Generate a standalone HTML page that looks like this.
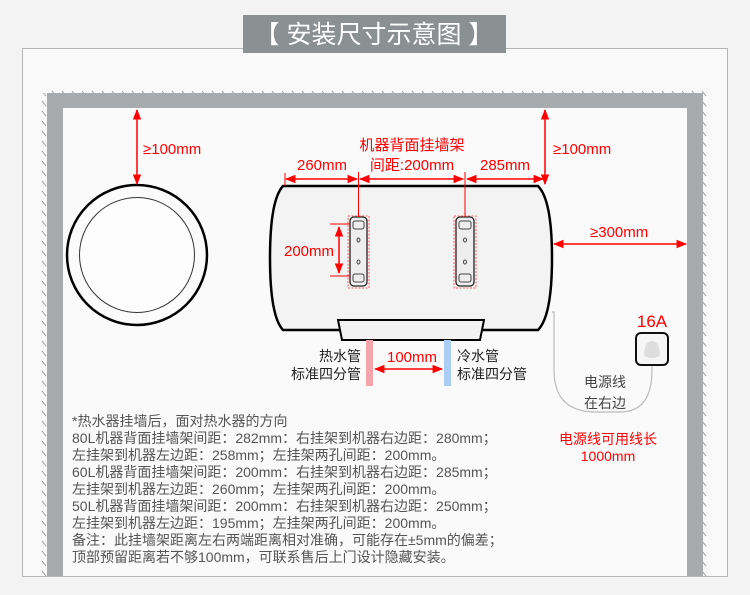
<!DOCTYPE html>
<html><head><meta charset="utf-8"><style>
html,body{margin:0;padding:0;background:#f3f3f3;}
svg{display:block;}
text{font-family:"Liberation Sans","Noto Sans CJK SC",sans-serif;}
</style></head><body>
<svg width="750" height="595" viewBox="0 0 750 595" xmlns="http://www.w3.org/2000/svg">
<defs>
<marker id="a" viewBox="0 0 10 10" refX="9" refY="5" markerWidth="7" markerHeight="7" orient="auto-start-reverse"><path d="M0,1 L10,5 L0,9 z" fill="#f00"/></marker>
<pattern id="h" width="10" height="10" patternUnits="userSpaceOnUse"><path d="M2,1 L6,6" stroke="#999" stroke-width="1"/></pattern>
</defs>
<rect x="0" y="0" width="750" height="595" fill="#f3f3f3"/>
<rect x="22.5" y="48.5" width="705" height="528" fill="#f9f9f9" stroke="#b5b5b5"/>
<rect x="243" y="15" width="263" height="38" fill="#8b9093"/>
<text x="374" y="43" font-size="25" fill="#fff" text-anchor="middle">【 安装尺寸示意图 】</text>
<!-- hatching -->
<rect x="47" y="86" width="663" height="7" fill="url(#h)"/>
<rect x="40" y="93" width="7" height="483" fill="url(#h)"/>
<rect x="703" y="93" width="8" height="483" fill="url(#h)"/>
<!-- wall -->
<path d="M47,93 H703 V576 H687 V108 H63 V576 H47 Z" fill="#a7abad"/>
<rect x="63" y="108" width="624" height="468" fill="#fafafa"/>
<!-- circle -->
<circle cx="137" cy="255" r="70" fill="#fbfbfb" stroke="#000" stroke-width="2.5"/>
<circle cx="137" cy="255" r="57.5" fill="#fdfdfd" stroke="#333" stroke-width="1"/>
<!-- tank -->
<path d="M283,186 H538 Q552,200 552,258 Q552,316 538,330 H283 Q270,316 270,258 Q270,200 283,186 Z" fill="#f3f3f3" stroke="#000" stroke-width="2.5"/>
<path d="M338,320 H484 L480,340 H342 Z" fill="#f2f2f2" stroke="#000" stroke-width="2"/>
<!-- brackets -->
<g fill="#eee" stroke="#222" stroke-width="1.3">
<rect x="350" y="217" width="17" height="69" rx="4"/>
<rect x="456" y="217" width="18" height="69" rx="4"/>
</g>
<g fill="none" stroke="#444" stroke-width="1">
<rect x="353" y="221" width="11" height="8" rx="2"/><rect x="353" y="274" width="11" height="8" rx="2"/>
<rect x="459" y="221" width="12" height="8" rx="2"/><rect x="459" y="274" width="12" height="8" rx="2"/>
<ellipse cx="358.5" cy="240" rx="1.5" ry="2"/><ellipse cx="358.5" cy="262" rx="1.5" ry="2"/>
<ellipse cx="465" cy="240" rx="1.5" ry="2"/><ellipse cx="465" cy="262" rx="1.5" ry="2"/>
</g>
<g fill="none" stroke="#f33" stroke-width="0.8" stroke-dasharray="2,1.5">
<rect x="348" y="216" width="21" height="72"/><rect x="454" y="216" width="22" height="72"/>
</g>
<!-- red dims -->
<g stroke="#f00" stroke-width="1.5" fill="none">
<line x1="137" y1="110" x2="137" y2="184" marker-start="url(#a)" marker-end="url(#a)"/>
<line x1="545" y1="110" x2="545" y2="184" marker-start="url(#a)" marker-end="url(#a)"/>
<line x1="286" y1="179" x2="357" y2="179" marker-start="url(#a)" marker-end="url(#a)"/>
<line x1="360" y1="179" x2="463" y2="179" marker-start="url(#a)" marker-end="url(#a)"/>
<line x1="467" y1="179" x2="543" y2="179" marker-start="url(#a)" marker-end="url(#a)"/>
<line x1="554" y1="244" x2="686" y2="244" marker-start="url(#a)" marker-end="url(#a)"/>
<line x1="339" y1="227" x2="339" y2="273" marker-start="url(#a)" marker-end="url(#a)"/>
<line x1="375" y1="369" x2="442" y2="369" marker-start="url(#a)" marker-end="url(#a)"/>
</g>
<g stroke="#f00" stroke-width="1">
<line x1="358.5" y1="172" x2="358.5" y2="217"/><line x1="465" y1="172" x2="465" y2="217"/>
<line x1="285" y1="173" x2="285" y2="186"/>
<line x1="330" y1="224" x2="350" y2="224"/><line x1="330" y1="276" x2="350" y2="276"/>
</g>
<g fill="#f00" font-size="15">
<text x="143" y="154">≥100mm</text>
<text x="553" y="154">≥100mm</text>
<text x="322" y="170" text-anchor="middle">260mm</text>
<text x="412" y="150" text-anchor="middle">机器背面挂墙架</text>
<text x="412" y="170" text-anchor="middle">间距:200mm</text>
<text x="505" y="170" text-anchor="middle">285mm</text>
<text x="590" y="237">≥300mm</text>
<text x="284" y="256">200mm</text>
<text x="412" y="362" text-anchor="middle">100mm</text>
<text x="652" y="327" text-anchor="middle" font-size="17">16A</text>
<text x="608" y="444" text-anchor="middle" font-size="14">电源线可用线长</text>
<text x="608" y="461" text-anchor="middle" font-size="14">1000mm</text>
</g>
<!-- pipes -->
<rect x="366" y="340" width="7" height="46" fill="#f6a4ab"/>
<rect x="444" y="340" width="7" height="46" fill="#a9cdf4"/>
<g fill="#222" font-size="14">
<text x="361" y="361" text-anchor="end">热水管</text>
<text x="361" y="379" text-anchor="end">标准四分管</text>
<text x="457" y="361">冷水管</text>
<text x="457" y="379">标准四分管</text>
</g>
<!-- power -->
<path d="M552,312 H554 V370 Q554,412 596,412 H620 Q652,412 652,370 V365" fill="none" stroke="#bbb" stroke-width="1.2"/>
<rect x="636" y="333" width="32" height="32" rx="5" fill="#f6f6f6" stroke="#111" stroke-width="2"/>
<path d="M652,341 Q646,341 644,352 Q643,358 652,358 Q661,358 660,352 Q658,341 652,341 Z" fill="#ddd"/>
<text x="605" y="387" text-anchor="middle" font-size="14" fill="#444">电源线</text>
<text x="605" y="408" text-anchor="middle" font-size="14" fill="#444">在右边</text>
<!-- notes -->
<g fill="#555" font-size="14">
<text x="72" y="426">*热水器挂墙后，面对热水器的方向</text>
<text x="72" y="443">80L机器背面挂墙架间距：282mm：右挂架到机器右边距：280mm；</text>
<text x="72" y="460">左挂架到机器左边距：258mm；左挂架两孔间距：200mm。</text>
<text x="72" y="477">60L机器背面挂墙架间距：200mm：右挂架到机器右边距：285mm；</text>
<text x="72" y="494">左挂架到机器左边距：260mm；左挂架两孔间距：200mm。</text>
<text x="72" y="511">50L机器背面挂墙架间距：200mm：右挂架到机器右边距：250mm；</text>
<text x="72" y="528">左挂架到机器左边距：195mm；左挂架两孔间距：200mm。</text>
<text x="72" y="545">备注：此挂墙架距离左右两端距离相对准确，可能存在±5mm的偏差；</text>
<text x="72" y="562">顶部预留距离若不够100mm，可联系售后上门设计隐藏安装。</text>
</g>
</svg>
</body></html>
